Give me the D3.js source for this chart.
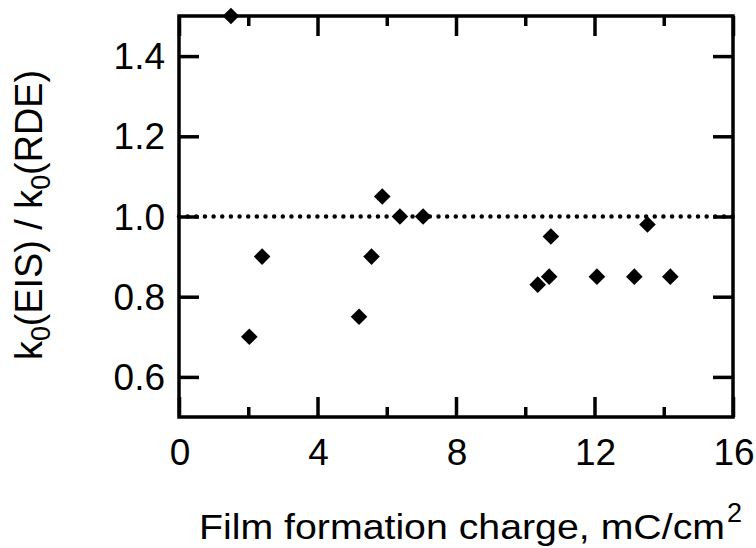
<!DOCTYPE html>
<html>
<head>
<meta charset="utf-8">
<script src="https://cdn.jsdelivr.net/npm/d3@7"></script>
<style>
  html, body { margin: 0; padding: 0; background: #fff; }
  svg { display: block; }
  text { font-family: "Liberation Sans", Arial, sans-serif; fill: #000; }
</style>
</head>
<body>
<svg id="chart" width="756" height="548"></svg>
<script>
// Film formation charge (mC/cm^2) vs. ratio of rate constants k0(EIS)/k0(RDE)
const charge = [1.5, 2.03, 2.4, 5.2, 5.56, 5.87, 6.38, 7.05, 10.36, 10.69, 10.74, 12.07, 13.15, 13.53, 14.19];
const ratio  = [1.50, 0.70, 0.90, 0.75, 0.90, 1.05, 1.00, 1.00, 0.83, 0.85, 0.95, 0.85, 0.85, 0.98, 0.85];

const xMajorTicks = [0, 4, 8, 12, 16];
const xMinorTicks = [2, 6, 10, 14];
const yTicks = [0.6, 0.8, 1.0, 1.2, 1.4];
const yTickLabels = ["0.6", "0.8", "1.0", "1.2", "1.4"];
const xTickLabels = ["0", "4", "8", "12", "16"];
const referenceRatio = 1.0;

const plotLeft = 179, plotRight = 733, plotTop = 16, plotBottom = 417;

const x = d3.scaleLinear().domain([0, 16]).range([plotLeft, plotRight]);
const y = d3.scaleLinear().domain([0.5, 1.5]).range([plotBottom, plotTop]);

const svg = d3.select("#chart");

function styleAxis(g) {
  g.select(".domain").remove();
  g.selectAll(".tick text").remove();
  g.selectAll(".tick line").attr("stroke", "#000").attr("stroke-width", 3.5);
}

// ticks on all four sides, pointing inward
svg.append("g").attr("transform", `translate(0,${plotBottom})`)
  .call(d3.axisBottom(x).tickValues(xMajorTicks).tickSize(-20).tickSizeOuter(0)).call(styleAxis);
svg.append("g").attr("transform", `translate(0,${plotBottom})`)
  .call(d3.axisBottom(x).tickValues(xMinorTicks).tickSize(-10).tickSizeOuter(0)).call(styleAxis);
svg.append("g").attr("transform", `translate(0,${plotTop})`)
  .call(d3.axisTop(x).tickValues(xMajorTicks).tickSize(-20).tickSizeOuter(0)).call(styleAxis);
svg.append("g").attr("transform", `translate(0,${plotTop})`)
  .call(d3.axisTop(x).tickValues(xMinorTicks).tickSize(-10).tickSizeOuter(0)).call(styleAxis);
svg.append("g").attr("transform", `translate(${plotLeft},0)`)
  .call(d3.axisLeft(y).tickValues(yTicks).tickSize(-20).tickSizeOuter(0)).call(styleAxis);
svg.append("g").attr("transform", `translate(${plotRight},0)`)
  .call(d3.axisRight(y).tickValues(yTicks).tickSize(-20).tickSizeOuter(0)).call(styleAxis);

// frame
svg.append("rect")
  .attr("x", plotLeft).attr("y", plotTop)
  .attr("width", plotRight - plotLeft).attr("height", plotBottom - plotTop)
  .attr("fill", "none").attr("stroke", "#000").attr("stroke-width", 3.5);

// dotted reference line at ratio = 1
svg.append("line")
  .attr("x1", x(0)).attr("x2", x(16))
  .attr("y1", y(referenceRatio)).attr("y2", y(referenceRatio))
  .attr("stroke", "#000").attr("stroke-width", 4.5)
  .attr("stroke-linecap", "round")
  .attr("stroke-dasharray", "0 8.65");

// diamond markers
const r = 8.3;
svg.append("g").selectAll("path")
  .data(charge.map((c, i) => [c, ratio[i]]))
  .join("path")
  .attr("transform", d => `translate(${x(d[0])},${y(d[1])})`)
  .attr("d", `M0,${-r}L${r},0L0,${r}L${-r},0Z`)
  .attr("fill", "#000");

// y tick labels
svg.append("g").selectAll("text")
  .data(yTicks)
  .join("text")
  .attr("x", 165)
  .attr("y", d => y(d) + 13)
  .attr("text-anchor", "end")
  .attr("font-size", 37)
  .text((d, i) => yTickLabels[i]);

// x tick labels
svg.append("g").selectAll("text")
  .data(xMajorTicks)
  .join("text")
  .attr("x", d => x(d) + 1)
  .attr("y", 465)
  .attr("text-anchor", "middle")
  .attr("font-size", 37)
  .text((d, i) => xTickLabels[i]);

// x axis title
const xt = svg.append("text")
  .attr("x", 199).attr("y", 539)
  .attr("font-size", 35);
xt.append("tspan").text("Film formation charge, mC/cm")
  .attr("textLength", 526).attr("lengthAdjust", "spacingAndGlyphs");
xt.append("tspan").attr("dy", -17).attr("dx", 2).attr("font-size", 27).text("2");

// y axis title
const yt = svg.append("text")
  .attr("transform", "translate(42,360) rotate(-90)")
  .attr("font-size", 38)
  .attr("textLength", 290).attr("lengthAdjust", "spacingAndGlyphs");
yt.append("tspan").text("k");
yt.append("tspan").attr("font-size", 27).attr("dy", 8).text("0");
yt.append("tspan").attr("dy", -8).text("(EIS) / k");
yt.append("tspan").attr("font-size", 27).attr("dy", 8).text("0");
yt.append("tspan").attr("dy", -8).text("(RDE)");
</script>
</body>
</html>
